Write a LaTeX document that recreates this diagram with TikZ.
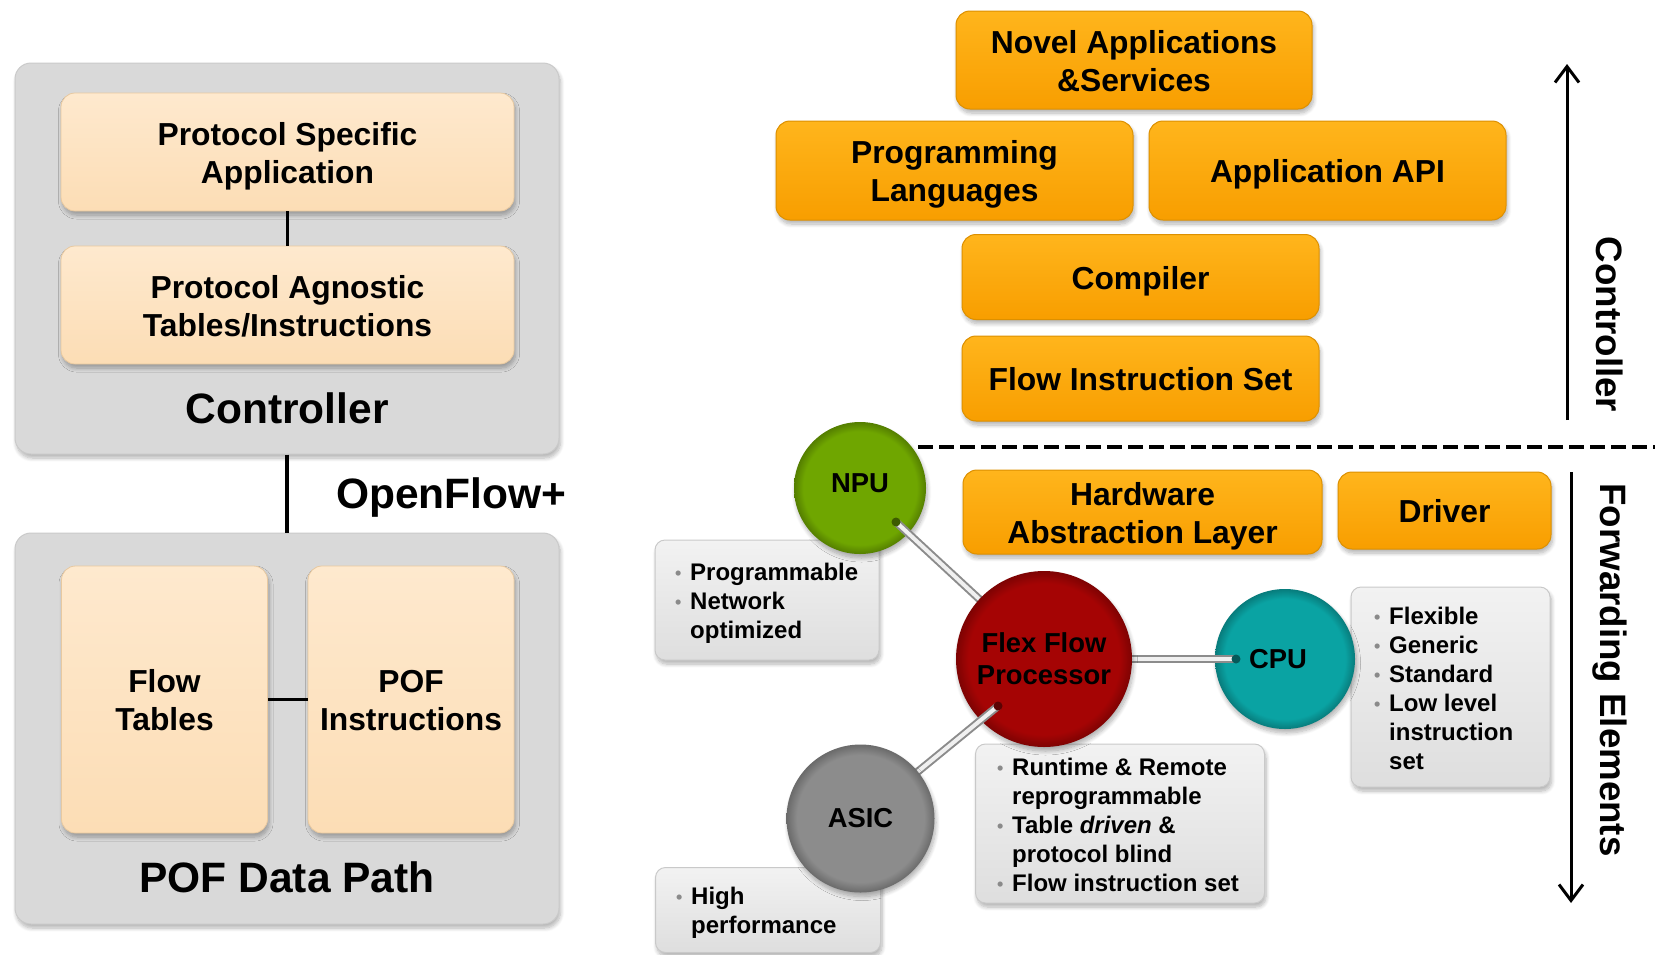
\documentclass[tikz,border=0pt]{standalone}
\usepackage{fontspec}
\setmainfont{Liberation Sans}
\usetikzlibrary{arrows.meta,shadows.blur}

\definecolor{panelgray}{HTML}{D9D9D9}
\definecolor{panelline}{HTML}{CACACA}
\definecolor{peachtop}{HTML}{FEE9CE}
\definecolor{peachbot}{HTML}{FCDDB5}
\definecolor{peachline}{HTML}{E8C9A0}
\definecolor{orangetop}{HTML}{FFB51C}
\definecolor{orangebot}{HTML}{F89E00}
\definecolor{orangeline}{HTML}{DD9000}
\definecolor{infotop}{HTML}{F2F2F2}
\definecolor{infobot}{HTML}{DEDEDE}
\definecolor{infoline}{HTML}{C9C9C9}
\definecolor{bulletgray}{HTML}{8A8A8A}
\definecolor{npugreen}{HTML}{6FA600}
\definecolor{flexred}{HTML}{A50404}
\definecolor{cputeal}{HTML}{0AA3A3}
\definecolor{asicgray}{HTML}{8C8C8C}
\definecolor{tubeedgecol}{HTML}{8C8C8C}
\definecolor{tubecorecol}{HTML}{F0F0F0}

% flat disc with a darker rim
\colorlet{orbbase}{gray}
\colorlet{orbedge}{black}
\pgfdeclareradialshading[orbbase,orbedge]{orbshade}{\pgfpoint{0bp}{0bp}}{color(0bp)=(orbbase); color(21.5bp)=(orbbase); color(25bp)=(orbedge); color(50bp)=(orbedge)}

\newcommand\bigfnt{\bfseries\fontsize{42.5}{51}\selectfont}
\newcommand\boxfnt{\bfseries\fontsize{31.8}{38}\selectfont}
\newcommand\rotfnt{\bfseries\fontsize{36.7}{44}\selectfont}
\newcommand\orbfnt{\bfseries\fontsize{27.4}{32}\selectfont}
\newcommand\listfnt{\bfseries\fontsize{24}{29}\selectfont}
\newcommand\bitem{\makebox[15pt][l]{\raisebox{1pt}{\textcolor{bulletgray}{\fontsize{18}{18}\selectfont\textbullet}}}}
\newcommand\bcont{\hspace*{15pt}}
% fixed top and bottom extents so box labels sit at the same height
\newcommand\toprule{\rule{0pt}{0.98em}}
\newcommand\botrule{\rule[-0.21em]{0pt}{0.21em}}

\begin{document}
\begin{tikzpicture}[x=1pt,y=-1pt,
  softshadow/.style={blur shadow={shadow xshift=1.5pt,shadow yshift=-4pt,shadow blur radius=4pt,shadow blur steps=8,shadow opacity=30}},
  panel/.style={draw=panelline,line width=1pt,fill=panelgray,rounded corners=16pt,softshadow,inner sep=0pt,minimum width=544pt,minimum height=391pt},
  boxlabel/.style={inner sep=0pt,align=center,font=\boxfnt},
  peachbox/.style={draw=peachline,line width=0.8pt,top color=peachtop,bottom color=peachbot,rounded corners=14pt,softshadow,boxlabel},
  orangebox/.style={draw=orangeline,line width=1pt,top color=orangetop,bottom color=orangebot,rounded corners=14pt,softshadow,boxlabel},
  infobox/.style={draw=infoline,line width=1pt,top color=infotop,bottom color=infobot,rounded corners=10pt,softshadow,inner sep=0pt},
  listtext/.style={anchor=north west,inner sep=0pt,align=left,font=\listfnt},
  orb/.style={circle,inner sep=0pt,font=\orbfnt,align=center,softshadow,
    /utils/exec={\colorlet{orbbase}{#1}\colorlet{orbedge}{#1!76!black}},shade,shading=orbshade},
  biglabel/.style={font=\bigfnt,inner sep=0pt},
  sidelabel/.style={font=\rotfnt,rotate=-90,inner sep=0pt},
  link/.style={line width=3.2pt,black},
  sidearrow/.style={line width=3pt,-{Straight Barb[length=16pt,width=24pt]}},
  divider/.style={line width=4.5pt,dash pattern=on 15pt off 6pt},
  tube/.style={draw=tubecorecol,line width=4pt,preaction={draw=tubeedgecol,line width=8pt}}
]
\useasboundingbox (0,0) rectangle (1655,954);

% ---------- left column: controller and POF data path ----------
\node[panel] (ctrlpanel) at (287,258.5) {};
\node[panel] (pofpanel) at (287,728.5) {};
\draw[link] (ctrlpanel.south) -- (pofpanel.north);

\node[peachbox,minimum width=453pt,minimum height=118pt] (psa) at (287.5,152) {\toprule Protocol Specific\\Application\botrule};
\node[peachbox,minimum width=453pt,minimum height=118pt] (pat) at (287.5,305) {\toprule Protocol Agnostic\\Tables/Instructions\botrule};
\draw[link] (psa.south) -- (pat.north);
\node[biglabel,anchor=base] (ctrltitle) at (287,423) {Controller};

\node[biglabel,anchor=base west] (openflow) at (336,508) {OpenFlow+};

\node[peachbox,minimum width=206pt,minimum height=267pt] (flowtab) at (164.5,699.5) {\toprule Flow\\Tables\botrule};
\node[peachbox,minimum width=206pt,minimum height=267pt] (pofins) at (411,699.5) {\toprule POF\\Instructions\botrule};
\draw[link] (flowtab.east) -- (pofins.west);
\node[biglabel,anchor=base] (pofdp) at (287,892) {POF Data Path};

% ---------- right column: software stack ----------
\node[orangebox,minimum width=356pt,minimum height=98pt] (novel) at (1134,60) {\toprule Novel Applications\\\&Services\botrule};
\node[orangebox,minimum width=357pt,minimum height=99pt] (proglang) at (954.5,170.5) {\toprule Programming\\Languages\botrule};
\node[orangebox,minimum width=357pt,minimum height=99pt] (appapi) at (1327.5,170.5) {\toprule Application API\botrule};
\node[orangebox,minimum width=357pt,minimum height=85pt] (compiler) at (1140.5,277) {\toprule Compiler\botrule};
\node[orangebox,minimum width=357pt,minimum height=85pt] (fis) at (1140.5,378.5) {\toprule Flow Instruction Set\botrule};
\node[orangebox,minimum width=359pt,minimum height=84pt] (hal) at (1142.5,512) {\toprule Hardware\\Abstraction Layer\botrule};
\node[orangebox,minimum width=213pt,minimum height=77pt] (driver) at (1444.5,510.5) {\toprule Driver\botrule};

% divider between controller and forwarding elements
\coordinate (divL) at (918,447);
\coordinate (divR) at (1655,447);
\draw[divider] (divL) -- (divR);

% side arrows and their labels
\coordinate (cbot) at (1567,420);
\coordinate (ctop) at (1567,64);
\draw[sidearrow] (cbot) -- (ctop);
\coordinate (ftop) at (1571,472);
\coordinate (fbot) at (1571,903);
\draw[sidearrow] (ftop) -- (fbot);
\node[sidelabel] (ctrlside) at (1610,324.5) {Controller};
\node[sidelabel] (fwdside) at (1610,670) {Forwarding Elements};

% ---------- forwarding element descriptions ----------
\node[infobox,minimum width=224pt,minimum height=120pt] (npuinfo) at (767,600) {};
\node[listtext] (npulist) at (675,563) {\bitem Programmable\\\bitem Network\\\bcont optimized};
\node[infobox,minimum width=225pt,minimum height=85pt] (asicinfo) at (768,910) {};
\node[listtext] (asiclist) at (676,887) {\bitem High\\\bcont performance};
\node[infobox,minimum width=289pt,minimum height=159pt] (flexinfo) at (1120,823.5) {};
\node[listtext] (flexlist) at (997,758) {\bitem Runtime \& Remote\\\bcont reprogrammable\\\bitem Table \textit{driven} \&\\\bcont protocol blind\\\bitem Flow instruction set};
\node[infobox,minimum width=199pt,minimum height=200pt] (cpuinfo) at (1450.5,687) {};
\node[listtext] (cpulist) at (1374,607) {\bitem Flexible\\\bitem Generic\\\bitem Standard\\\bitem Low level\\\bcont instruction\\\bcont set};

% ---------- processors ----------
\coordinate (npuc) at (860,488);
\coordinate (flexc) at (1044,659);
\coordinate (cpuc) at (1285,659);
\coordinate (asicc) at (860.5,818.5);
\coordinate (npudot) at (896,522);
\coordinate (cpudot) at (1236,659);
\coordinate (flexdot) at (998,706);

\node[orb=npugreen,minimum size=132pt,text height=19.6pt,text depth=10pt] (npu) at (npuc) {NPU};
\node[orb=cputeal,minimum size=140pt] (cpu) at (cpuc) {CPU\hspace{14pt}};

\draw[tube] (npudot) -- (flexc);
\draw[tube] (cpudot) -- (flexc);
\fill[npugreen!55!black] (npudot) circle (4.5);
\fill[cputeal!55!black] (cpudot) circle (4.5);

\node[orb=flexred,minimum size=176pt] (flex) at (flexc) {Flex Flow\\Processor};

\draw[tube] (flexdot) -- (asicc);
\fill[flexred!55!black] (flexdot) circle (4.5);

\node[orb=asicgray,minimum size=148pt] (asic) at (asicc) {ASIC};
\end{tikzpicture}
\end{document}
